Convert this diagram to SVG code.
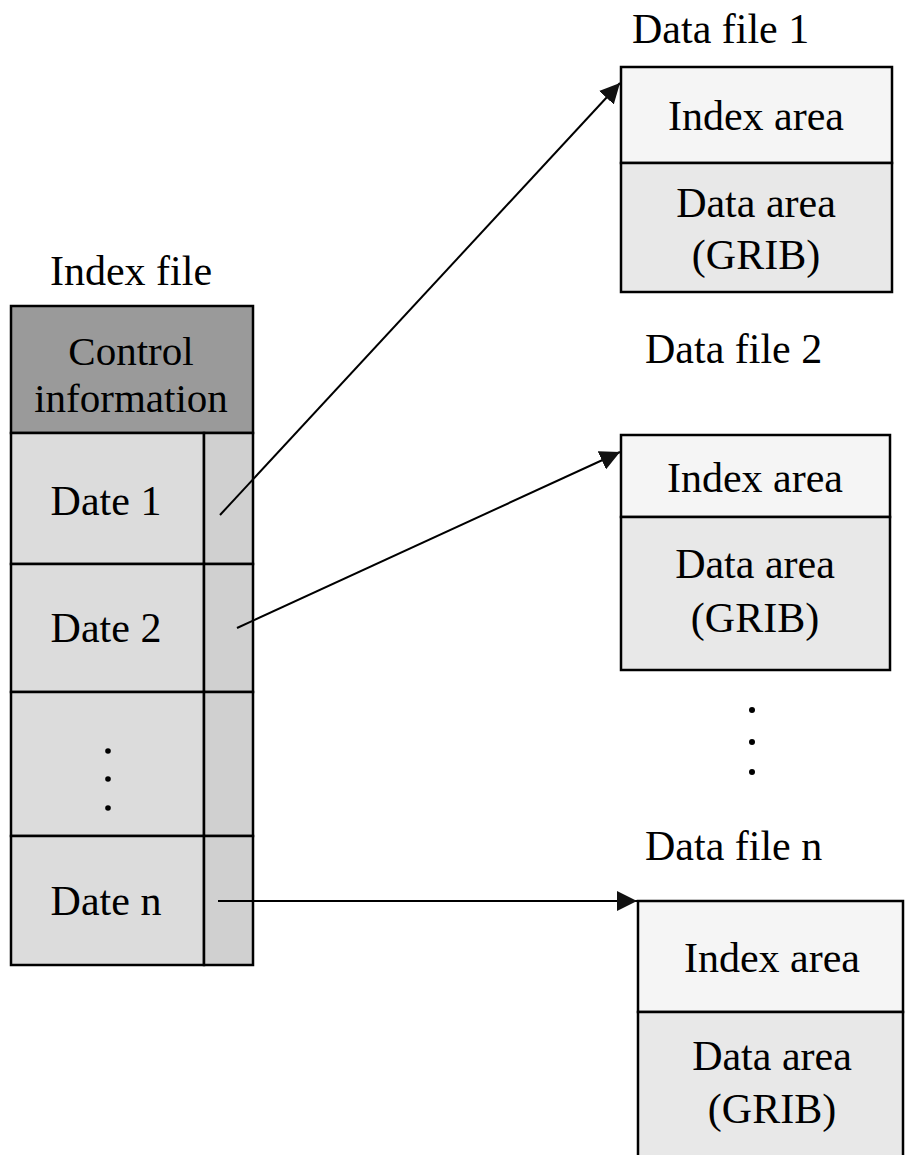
<svg xmlns="http://www.w3.org/2000/svg" width="905" height="1155" viewBox="0 0 905 1155">
  <style>
    text { font-family: "Liberation Serif", "Times New Roman", serif; font-size: 42px; fill: #000; }
    .c { text-anchor: middle; }
    .ci { font-size: 41px; }
    .box { stroke: #000; stroke-width: 2.5; }
    .ctrl { fill: #9a9a9a; }
    .date { fill: #dcdcdc; }
    .ptr { fill: #d0d0d0; }
    .idx { fill: #f5f5f5; }
    .dat { fill: #e8e8e8; }
    .dot { fill: #000; }
    .conn { stroke: #000; stroke-width: 2; fill: none; marker-end: url(#arrow); }
  </style>
  <defs>
    <marker id="arrow" viewBox="0 0 10 10" refX="10" refY="5" markerWidth="20" markerHeight="20" markerUnits="userSpaceOnUse" orient="auto">
      <path d="M0,0 L10,5 L0,10 z" fill="#111"/>
    </marker>
  </defs>

  <g id="index-file">
    <text class="c" x="131" y="285">Index file</text>
    <rect class="box ctrl" x="11" y="306" width="242" height="127"/>
    <text class="c ci" x="131" y="365">Control</text>
    <text class="c ci" x="131" y="412">information</text>
    <rect class="box date" x="11" y="433" width="193" height="131"/>
    <rect class="box ptr" x="204" y="433" width="49" height="131"/>
    <text class="c" x="106" y="515">Date 1</text>
    <rect class="box date" x="11" y="564" width="193" height="128"/>
    <rect class="box ptr" x="204" y="564" width="49" height="128"/>
    <text class="c" x="106" y="642">Date 2</text>
    <rect class="box date" x="11" y="692" width="193" height="144"/>
    <rect class="box ptr" x="204" y="692" width="49" height="144"/>
    <circle class="dot" cx="108" cy="751" r="2.8"/>
    <circle class="dot" cx="108" cy="779" r="2.8"/>
    <circle class="dot" cx="108" cy="808" r="2.8"/>
    <rect class="box date" x="11" y="836" width="193" height="129"/>
    <rect class="box ptr" x="204" y="836" width="49" height="129"/>
    <text class="c" x="106" y="915">Date n</text>
  </g>

  <g id="data-file-1">
    <text x="632" y="43">Data file 1</text>
    <rect class="box idx" x="621" y="67" width="271" height="96"/>
    <rect class="box dat" x="621" y="163" width="271" height="129"/>
    <text class="c" x="756" y="130">Index area</text>
    <text class="c" x="756" y="217">Data area</text>
    <text class="c" x="756" y="269">(GRIB)</text>
  </g>

  <g id="data-file-2">
    <text x="645" y="363">Data file 2</text>
    <rect class="box idx" x="621" y="435" width="269" height="82"/>
    <rect class="box dat" x="621" y="517" width="269" height="153"/>
    <text class="c" x="755" y="492">Index area</text>
    <text class="c" x="755" y="578">Data area</text>
    <text class="c" x="755" y="632">(GRIB)</text>
  </g>

  <g id="ellipsis">
    <circle class="dot" cx="752" cy="710" r="3"/>
    <circle class="dot" cx="752" cy="742" r="3"/>
    <circle class="dot" cx="752" cy="772" r="3"/>
  </g>

  <g id="data-file-n">
    <text x="645" y="860">Data file n</text>
    <rect class="box idx" x="638" y="901" width="265" height="111"/>
    <rect class="box dat" x="638" y="1012" width="265" height="150"/>
    <text class="c" x="772" y="972">Index area</text>
    <text class="c" x="772" y="1070">Data area</text>
    <text class="c" x="772" y="1123">(GRIB)</text>
  </g>

  <g id="connectors">
    <line class="conn" x1="220" y1="515" x2="620" y2="83"/>
    <line class="conn" x1="237" y1="628" x2="620" y2="452"/>
    <line class="conn" x1="218" y1="901" x2="637" y2="901"/>
  </g>
</svg>
